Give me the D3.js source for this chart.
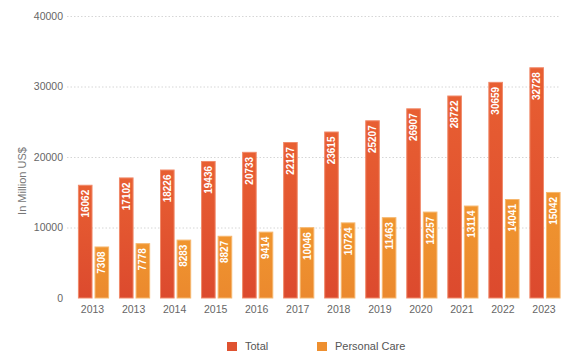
<!DOCTYPE html>
<html>
<head>
<meta charset="utf-8">
<script src="https://cdn.jsdelivr.net/npm/d3@7"></script>
<style>
  html, body { margin: 0; padding: 0; background: #ffffff; }
  svg { display: block; font-family: "Liberation Sans", Arial, Helvetica, sans-serif; }
</style>
</head>
<body>
<svg id="chart" width="572" height="356"></svg>
<script>
const categories = ["2013", "2013", "2014", "2015", "2016", "2017", "2018", "2019", "2020", "2021", "2022", "2023"];
const totalValues = [16062, 17102, 18226, 19436, 20733, 22127, 23615, 25207, 26907, 28722, 30659, 32728];
const personalCareValues = [7308, 7778, 8283, 8827, 9414, 10046, 10724, 11463, 12257, 13114, 14041, 15042];
const seriesNames = ["Total", "Personal Care"];
const yTicks = [0, 10000, 20000, 30000, 40000];
const yLabel = "In Million US$";

const svg = d3.select("#chart");
const W = 572, H = 356;
const margin = { left: 73, right: 6.5, top: 16, bottom: 58 };

const defs = svg.append("defs");
function grad(id, top, bottom) {
  const g = defs.append("linearGradient").attr("id", id)
    .attr("x1", 0).attr("y1", 0).attr("x2", 0).attr("y2", 1);
  g.append("stop").attr("offset", "0%").attr("stop-color", top);
  g.append("stop").attr("offset", "100%").attr("stop-color", bottom);
}
grad("gTotal", "#e85f32", "#dc4a2e");
grad("gPC", "#f0952f", "#eb892e");
const fills = ["url(#gTotal)", "url(#gPC)"];
const legendColors = ["#df5230", "#ee8f2f"];
const strokes = ["#f08a6a", "#f6b76e"];

const x = d3.scaleBand().domain(d3.range(categories.length))
  .range([margin.left, W - margin.right]).paddingInner(0.24).paddingOuter(0.12);
const xs = d3.scaleBand().domain([0, 1]).range([0, x.bandwidth()]).paddingInner(0.12);
const y = d3.scaleLinear().domain([0, 40000]).range([298, 16]);

// gridlines
svg.append("g").selectAll("line").data(yTicks.filter(d => d > 0)).join("line")
  .attr("x1", 67).attr("x2", 560)
  .attr("y1", d => y(d) + 0.5).attr("y2", d => y(d) + 0.5)
  .attr("stroke", "#d6d6d6").attr("stroke-width", 1).attr("stroke-dasharray", "1.5,2");

// y axis via d3 axis
const yAxis = svg.append("g").attr("transform", "translate(63,0)")
  .call(d3.axisLeft(y).tickValues(yTicks).tickSize(0).tickPadding(0).tickFormat(d3.format("d")));
yAxis.select(".domain").remove();
yAxis.selectAll("text").attr("fill", "#666").style("font-size", "10.5px")
  .style("font-family", "'Liberation Sans', Arial, sans-serif");

// y label
svg.append("text").attr("transform", "translate(26,181) rotate(-90)")
  .attr("text-anchor", "middle").attr("fill", "#777").style("font-size", "11px").text(yLabel);

// x axis
const xAxis = svg.append("g").attr("transform", "translate(-1," + 306 + ")")
  .call(d3.axisBottom(x).tickSize(0).tickPadding(0).tickFormat(i => categories[i]));
xAxis.select(".domain").remove();
xAxis.selectAll("text").attr("fill", "#666").style("font-size", "10.5px")
  .style("font-family", "'Liberation Sans', Arial, sans-serif");

// bars
const series = [totalValues, personalCareValues];
series.forEach((vals, s) => {
  const g = svg.append("g");
  g.selectAll("rect").data(vals).join("rect")
    .attr("x", (d, i) => x(i) + xs(s) + 0.5)
    .attr("y", d => y(d) + 0.5)
    .attr("width", xs.bandwidth() - 1)
    .attr("height", d => y(0) - y(d) - 0.5)
    .attr("fill", fills[s])
    .attr("stroke", strokes[s]).attr("stroke-width", 1);
  g.selectAll("text").data(vals).join("text")
    .attr("transform", (d, i) => `translate(${x(i) + xs(s) + xs.bandwidth() / 2 + 3.5},${y(d) + 5}) rotate(-90)`)
    .attr("text-anchor", "end")
    .attr("fill", "#ffffff").style("font-size", "10px").style("font-weight", "bold")
    .text(d => d);
});

// legend
const legend = svg.append("g");
const lx = [227, 317];
seriesNames.forEach((n, i) => {
  legend.append("rect").attr("x", lx[i]).attr("y", 342).attr("width", 10).attr("height", 9)
    .attr("fill", legendColors[i]);
  legend.append("text").attr("x", lx[i] + 18).attr("y", 350)
    .attr("fill", "#555").style("font-size", "11px").text(n);
});
</script>
</body>
</html>
